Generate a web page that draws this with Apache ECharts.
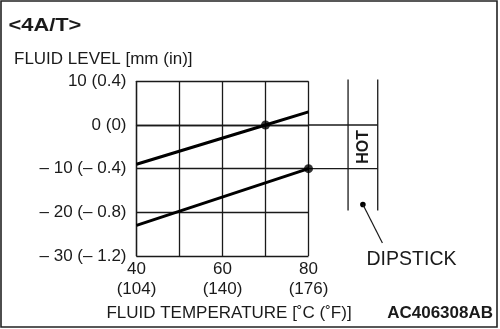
<!DOCTYPE html>
<html><head><meta charset="utf-8">
<script src="https://cdn.jsdelivr.net/npm/echarts@6/dist/echarts.min.js"></script>
<style>html,body{margin:0;padding:0;background:#fff}#c{width:500px;height:329px}</style>
</head><body><div id="c"></div>
<script>
// Data
const xTicks = [40, 50, 60, 70, 80];
const xTickLabels = {40: '40\n(104)', 60: '60\n(140)', 80: '80\n(176)'};
const yTickLabels = {'10': '10 (0.4)', '0': '0 (0)', '-10': '– 10 (– 0.4)', '-20': '– 20 (– 0.8)', '-30': '– 30 (– 1.2)'};
const upperLine = [[40, -9], [70, 0], [80, 3]];
const lowerLine = [[40, -23], [80, -10]];
const markerPoints = [[70, 0], [80, -10]];
const hotLevels = [0, -10];
const dipstickX = [89.2, 96.1];
const dipstickRange = [10.4, -19.6];

const ink = '#1a1a1a';
const font = '"Liberation Sans", Arial, sans-serif';
const chart = echarts.init(document.getElementById('c'), null, {renderer: 'canvas'});
chart.setOption({
  animation: false,
  backgroundColor: '#fff',
  grid: {left: 136.5, right: 191.5, top: 81.3, bottom: 73, show: false},
  xAxis: {
    type: 'value', min: 40, max: 80, interval: 10,
    axisLine: {show: true, lineStyle: {color: ink, width: 1.3}},
    axisTick: {show: false},
    splitLine: {show: true, lineStyle: {color: ink, width: 1.3}},
    axisLabel: {
      color: ink, fontFamily: font, fontSize: 17, lineHeight: 19.5, margin: 4,
      formatter: v => xTickLabels[v] || ''
    }
  },
  yAxis: {
    type: 'value', min: -30, max: 10, interval: 10,
    axisLine: {show: true, lineStyle: {color: ink, width: 1.3}},
    axisTick: {show: false},
    splitLine: {show: true, lineStyle: {color: ink, width: 1.3}},
    axisLabel: {color: ink, fontFamily: font, fontSize: 17, margin: 10,
      formatter: v => yTickLabels[String(v)] || ''}
  },
  series: [
    {type: 'line', data: upperLine, showSymbol: false, lineStyle: {color: '#000', width: 3}, z: 5},
    {type: 'line', data: lowerLine, showSymbol: false, lineStyle: {color: '#000', width: 3}, z: 5},
    {type: 'scatter', data: markerPoints, symbolSize: 9, itemStyle: {color: '#000'}, z: 6}
  ]
});

function px(x, y) { return chart.convertToPixel({xAxisIndex: 0, yAxisIndex: 0}, [x, y]); }
const els = [];
const ls = {stroke: ink, lineWidth: 1.3};
// extension of HOT level lines through dipstick
hotLevels.forEach(v => {
  const a = px(80, v), b = px(dipstickX[1], v);
  els.push({type: 'line', shape: {x1: a[0], y1: a[1], x2: b[0], y2: b[1]}, style: ls});
});
dipstickX.forEach(x => {
  const a = px(x, dipstickRange[0]), b = px(x, dipstickRange[1]);
  els.push({type: 'line', shape: {x1: a[0], y1: a[1], x2: b[0], y2: b[1]}, style: ls});
});
const hc = px((dipstickX[0] + dipstickX[1]) / 2, (hotLevels[0] + hotLevels[1]) / 2);
els.push({type: 'text', x: hc[0] + 1, y: hc[1], rotation: Math.PI / 2,
  style: {text: 'HOT', fill: ink, font: 'bold 16px ' + font, align: 'center', verticalAlign: 'middle'}});
const dot = px((dipstickX[0] + dipstickX[1]) / 2, -18.2);
els.push({type: 'circle', shape: {cx: dot[0], cy: dot[1], r: 2.8}, style: {fill: '#000'}});
els.push({type: 'line', shape: {x1: dot[0], y1: dot[1], x2: dot[0] + 19.5, y2: dot[1] + 38.5}, style: {stroke: ink, lineWidth: 1.2}});
els.push({type: 'text', x: 411.5, y: 260, style: {text: 'DIPSTICK', fill: ink, font: '19.5px ' + font, align: 'center', verticalAlign: 'middle'}});
// titles
els.push({type: 'text', x: 10, y: 26, scaleX: 1.15, originX: 10, originY: 26,
  style: {text: '<4A/T>', fill: ink, font: 'bold 19px ' + font, verticalAlign: 'middle'}});
els.push({type: 'text', x: 14, y: 59.5, style: {text: 'FLUID LEVEL [mm (in)]', fill: ink, font: '17px ' + font, verticalAlign: 'middle'}});
els.push({type: 'text', x: 229, y: 313, style: {text: 'FLUID TEMPERATURE [˚C (˚F)]', fill: ink, font: '17px ' + font, align: 'center', verticalAlign: 'middle'}});
els.push({type: 'text', x: 493, y: 313, style: {text: 'AC406308AB', fill: ink, font: 'bold 17px ' + font, align: 'right', verticalAlign: 'middle'}});
// frame
els.push({type: 'rect', shape: {x: 1, y: 1, width: 496, height: 326}, style: {fill: null, stroke: '#222', lineWidth: 1.6}});
chart.setOption({graphic: {elements: els}});
</script></body></html>
